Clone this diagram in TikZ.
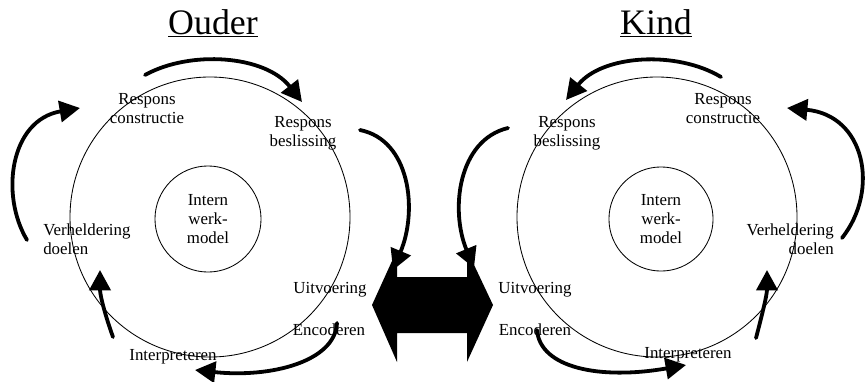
\documentclass[tikz,border=0pt]{standalone}
\usepackage{fontspec}
\setmainfont{Liberation Serif}
\usetikzlibrary{arrows.meta}

\tikzset{
  pijl/.style={line width=2.7pt, line cap=round, -{Triangle[length=14.5pt,width=15pt]}},
  cirkel/.style={draw, line width=0.6pt},
  fase/.style={font=\fontsize{12}{13.5}\selectfont, inner sep=0pt, align=center},
  titel/.style={font=\fontsize{25.5}{28}\selectfont, inner sep=0pt, anchor=base},
}

\begin{document}
\begin{tikzpicture}[x=0.711pt, y=-0.711pt]
        \useasboundingbox (0,0) rectangle (868,381);
        % titels
        \node[titel] (ouder) at (213,34) {\underline{Ouder}};
        \node[titel] (kind) at (656,34) {\underline{Kind}};
        % buitenste cirkels
        \draw[cirkel] (210,217) circle[radius=140];
        \draw[cirkel] (657,217) circle[radius=140];
        % intern werkmodel
        \node[cirkel, circle, minimum size=75.4pt, fase] (oIWM) at (208,219) {Intern\\werk-\\model};
        \node[cirkel, circle, minimum size=74pt, fase] (kIWM) at (661,219) {Intern\\werk-\\model};
        % fasen ouder
        \node[fase] (oRC) at (147,109) {Respons\\constructie};
        \node[fase] (oRB) at (303,133) {Respons\\beslissing};
        \node[fase, anchor=west, align=left] (oVD) at (43,239) {Verheldering\\doelen};
        \node[fase, anchor=base] (oUit) at (330,293) {Uitvoering};
        \node[fase, anchor=base] (oEnc) at (329,335) {Encoderen};
        \node[fase, anchor=base] (oInt) at (173,360) {Interpreteren};
        % fasen kind
        \node[fase] (kRC) at (723,109) {Respons\\constructie};
        \node[fase] (kRB) at (567,133) {Respons\\beslissing};
        \node[fase, anchor=east, align=right] (kVD) at (834,239) {Verheldering\\doelen};
        \node[fase, anchor=base] (kUit) at (535,293) {Uitvoering};
        \node[fase, anchor=base] (kEnc) at (535,335) {Encoderen};
        \node[fase, anchor=base] (kInt) at (688,358) {Interpreteren};
        % pijlen ouder
        \coordinate (oa1) at (145,75);  \coordinate (ob1) at (302,102);
        \coordinate (oa2) at (360,130); \coordinate (ob2) at (393,270);
        \coordinate (oa3) at (337,323); \coordinate (ob3) at (195,370);
        \coordinate (oa4) at (113,337); \coordinate (ob4) at (100,270);
        \coordinate (oa5) at (27,240);  \coordinate (ob5) at (80,108);
        \draw[pijl] (oa1) .. controls (190,50) and (265,55) .. (ob1);
        \draw[pijl] (oa2) .. controls (410,140) and (418,210) .. (ob2);
        \draw[pijl] (oa3) .. controls (335,362) and (270,378) .. (ob3);
        \draw[pijl] (oa4) .. controls (105,315) and (100,295) .. (ob4);
        \draw[pijl] (oa5) .. controls (0,195) and (10,120) .. (ob5);
        % pijlen kind
        \coordinate (ka1) at (721,77);  \coordinate (kb1) at (566,100);
        \coordinate (ka2) at (508,128); \coordinate (kb2) at (474,268);
        \coordinate (ka3) at (537,330); \coordinate (kb3) at (686,365);
        \coordinate (ka4) at (756,338); \coordinate (kb4) at (767,270);
        \coordinate (ka5) at (842,238); \coordinate (kb5) at (787,108);
        \draw[pijl] (ka1) .. controls (676,50) and (602,55) .. (kb1);
        \draw[pijl] (ka2) .. controls (458,140) and (450,210) .. (kb2);
        \draw[pijl] (ka3) .. controls (540,368) and (600,380) .. (kb3);
        \draw[pijl] (ka4) .. controls (762,315) and (767,295) .. (kb4);
        \draw[pijl] (ka5) .. controls (880,190) and (865,115) .. (kb5);
        % wisselwerking
        \fill (372,305) -- (397,250) -- (397,277) -- (467,277) -- (467,250) -- (493,305)
          -- (467,362) -- (467,333) -- (397,333) -- (397,362) -- cycle;
\end{tikzpicture}
\end{document}
